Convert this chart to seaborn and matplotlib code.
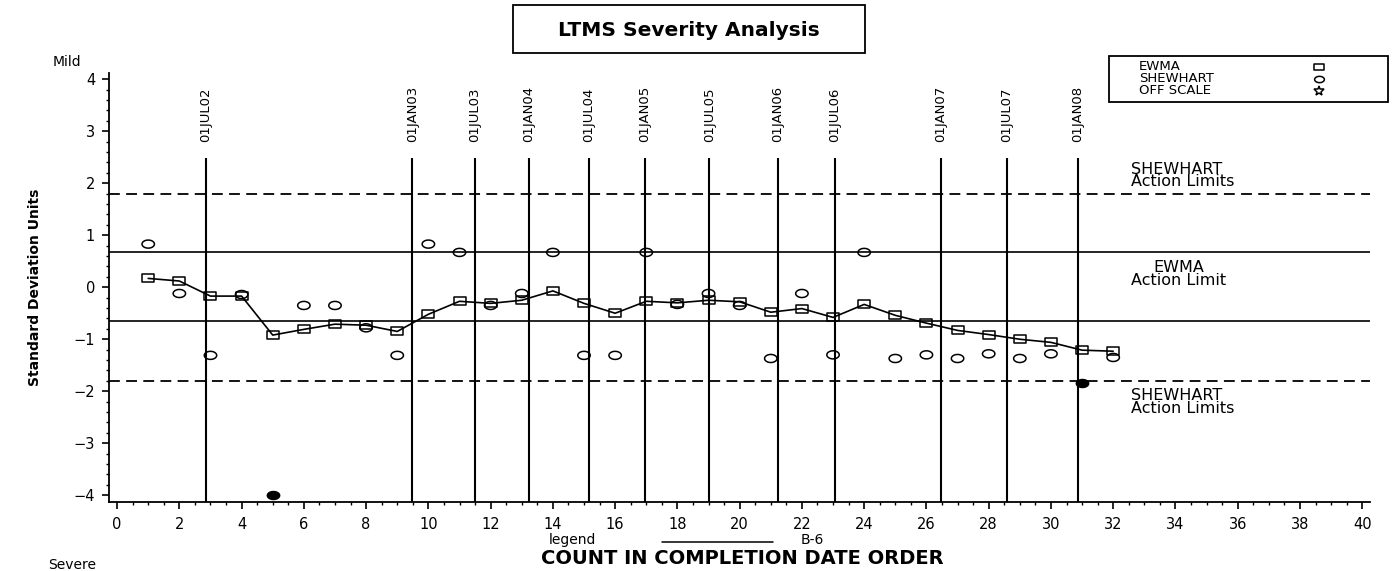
import numpy as np
import pandas as pd
import matplotlib
matplotlib.use("Agg")
import matplotlib.pyplot as plt
import seaborn as sns
from matplotlib.path import Path
from matplotlib.lines import Line2D
from matplotlib.patches import Rectangle
from matplotlib.ticker import MultipleLocator

# ---------------- data ----------------
count = list(range(1, 33))
ewma = [0.17, 0.12, -0.17, -0.17, -0.92, -0.81, -0.71, -0.73, -0.85, -0.52,
        -0.27, -0.31, -0.25, -0.07, -0.31, -0.50, -0.27, -0.30, -0.25, -0.28,
        -0.48, -0.41, -0.58, -0.33, -0.54, -0.69, -0.83, -0.91, -1.00, -1.06,
        -1.21, -1.23]
shewhart = [0.83, -0.12, -1.31, -0.14, np.nan, -0.35, -0.35, -0.78, -1.31, 0.83,
            0.67, -0.35, -0.12, 0.67, -1.31, -1.31, 0.67, -0.33, -0.12, -0.35,
            -1.37, -0.12, -1.30, 0.67, -1.37, -1.30, -1.37, -1.28, -1.37, -1.28,
            np.nan, -1.35]
flag_x = [5, 31]
flag_y = [-4.0, -1.85]
date_labels = ["01JUL02", "01JAN03", "01JUL03", "01JAN04", "01JUL04", "01JAN05",
               "01JUL05", "01JAN06", "01JUL06", "01JAN07", "01JUL07", "01JAN08"]
date_pos = [2.86, 9.48, 11.5, 13.23, 15.16, 16.96, 19.02, 21.23, 23.06, 26.47,
            28.59, 30.87]
shewhart_limit = 1.8
ewma_upper = 0.67
ewma_lower = -0.65
x_ticks = list(range(0, 41, 2))
y_ticks = list(range(-4, 5))

# ---------------- style ----------------
sns.set_theme(style="ticks")
plt.rcParams["font.family"] = ["DejaVu Sans"]
plt.rcParams["axes.edgecolor"] = "black"
plt.rcParams["text.color"] = "black"
plt.rcParams["xtick.color"] = "black"
plt.rcParams["ytick.color"] = "black"
plt.rcParams["xtick.labelcolor"] = "black"
plt.rcParams["ytick.labelcolor"] = "black"

W, H = 1392, 571
def fx(x):
    return x / W
def fy(y):
    return 1 - y / H

fig = plt.figure(figsize=(W / 100, H / 100), dpi=100)
ax = fig.add_axes([fx(109), fy(502), (1370 - 109) / W, (502 - 72.5) / H])

theta = np.linspace(0, 2 * np.pi, 41)
ellipse = Path(np.column_stack([np.cos(theta), 0.65 * np.sin(theta)]), closed=True)
rect = Path([(-1, -0.7), (1, -0.7), (1, 0.7), (-1, 0.7), (-1, -0.7)], closed=True)

df_ewma = pd.DataFrame({"count": count, "value": ewma})
df_shew = pd.DataFrame({"count": count, "value": shewhart}).dropna()

ymin, ymax = -4.13, 4.13

# reference lines
dash = (0, (6, 3.5))
ax.axhline(shewhart_limit, color="black", lw=1.3, ls=dash)
ax.axhline(-shewhart_limit, color="black", lw=1.3, ls=dash)
ax.axhline(ewma_upper, color="black", lw=1.2)
ax.axhline(ewma_lower, color="black", lw=1.2)
ax.vlines(date_pos, ymin, 2.48, color="black", lw=1.5)
for xp, lab in zip(date_pos, date_labels):
    ax.text(xp, 2.79, lab, rotation=90, ha="center", va="bottom", fontsize=9.5,
            color="black")

sns.lineplot(data=df_ewma, x="count", y="value", color="black", lw=1.2,
             marker=rect, markersize=8, mfc="none", mec="black", mew=1.1,
             errorbar=None, ax=ax)
sns.scatterplot(data=df_shew, x="count", y="value", marker=ellipse, s=80,
                facecolors="none", edgecolor="black", linewidth=1.1, ax=ax)
sns.scatterplot(x=flag_x, y=flag_y, marker=ellipse, s=80, color="black",
                edgecolor="black", linewidth=1, ax=ax)

# right-hand annotations
xa = (1131 - 117) / 31.13
ann_kw = dict(ha="left", va="center", fontsize=11.5, linespacing=0.8)
ax.text(xa, 2.15, "SHEWHART\nAction Limits", ma="left", **ann_kw)
ax.text(xa, 0.25, "EWMA\nAction Limit", ma="center", **ann_kw)
ax.text(xa, -2.21, "SHEWHART\nAction Limits", ma="left", **ann_kw)

ax.set_xlim(-0.26, 40.25)
ax.set_ylim(ymin, ymax)
ax.set_xticks(x_ticks)
ax.set_yticks(y_ticks)
ax.xaxis.set_minor_locator(MultipleLocator(0.5))
ax.yaxis.set_minor_locator(MultipleLocator(0.2))
ax.tick_params(which="major", direction="out", length=5, width=1.2,
               colors="black", labelsize=10.5)
ax.tick_params(axis="x", which="major", pad=6)
ax.tick_params(axis="y", which="major", pad=5)
ax.tick_params(which="minor", direction="out", length=2.5, width=1, colors="black")
ax.set_xlabel("")
ax.set_ylabel("")
for s in ["top", "right"]:
    ax.spines[s].set_visible(False)
for s in ["left", "bottom"]:
    ax.spines[s].set_linewidth(1.3)
ax.set_facecolor("white")

# figure texts
fig.text(fx(35), fy(287), "Standard Deviation Units", rotation=90, ha="center",
         va="center", fontsize=10, fontweight="bold")
fig.text(fx(67), fy(62), "Mild", ha="center", va="center", fontsize=10)
fig.text(fx(72), fy(565), "Severe", ha="center", va="center", fontsize=10)
fig.text(fx(742), fy(558), "COUNT IN COMPLETION DATE ORDER", ha="center",
         va="center", fontsize=14, fontweight="bold")
fig.text(fx(572), fy(540), "legend", ha="center", va="center", fontsize=10)
fig.add_artist(Line2D([fx(662), fx(773)], [fy(542), fy(542)], color="black",
                      lw=1.1, transform=fig.transFigure))
fig.text(fx(812), fy(540), "B-6", ha="center", va="center", fontsize=10)

# title box
fig.add_artist(Rectangle((fx(513), fy(53)), (865 - 513) / W, 48 / H, fill=False,
                         lw=1.3, ec="black", transform=fig.transFigure))
fig.text(fx(689), fy(30), "LTMS Severity Analysis", ha="center", va="center",
         fontsize=14.5, fontweight="bold")

# legend box
fig.add_artist(Rectangle((fx(1109), fy(102)), (1388 - 1109) / W, 46 / H,
                         fill=False, lw=1.3, ec="black", transform=fig.transFigure))
leg_items = [("EWMA", rect, 67), ("SHEWHART", ellipse, 79), ("OFF SCALE", "*", 91)]
for name, mk, yy in leg_items:
    fig.text(fx(1139), fy(yy), name, ha="left", va="center", fontsize=9.5)
    fig.add_artist(Line2D([fx(1319)], [fy(yy)], marker=mk, markersize=7,
                          mfc="none", mec="black", mew=1.1, ls="none",
                          transform=fig.transFigure))

fig.savefig("out.png", dpi=100, facecolor="white")
